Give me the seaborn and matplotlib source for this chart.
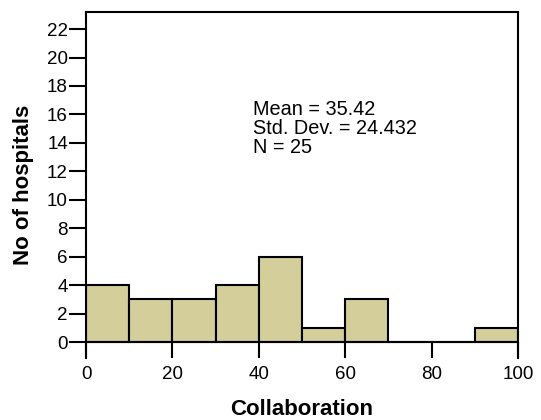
import numpy as np
import pandas as pd
import matplotlib
matplotlib.use("Agg")
import matplotlib.pyplot as plt
import seaborn as sns

# counts per bin of width 10
bin_edges = [0, 10, 20, 30, 40, 50, 60, 70, 80, 90, 100]
counts = [4, 3, 3, 4, 6, 1, 3, 0, 0, 1]
stats_lines = ["Mean = 35.42", "Std. Dev. = 24.432", "N = 25"]
y_ticks = list(range(0, 23, 2))
x_ticks = [0, 20, 40, 60, 80, 100]

sns.set_style("ticks")
plt.rcParams['font.family'] = ['Liberation Sans', 'DejaVu Sans']
plt.rcParams['text.color'] = 'black'
plt.rcParams['axes.labelcolor'] = 'black'
plt.rcParams['xtick.color'] = 'black'
plt.rcParams['ytick.color'] = 'black'

mids = [(a + b) / 2 for a, b in zip(bin_edges[:-1], bin_edges[1:])]
df = pd.DataFrame({'Collaboration': mids, 'n': counts})

fig = plt.figure(figsize=(5.41, 4.20), dpi=100)
ax = fig.add_axes([0.159, 0.1476, 0.7985, 0.8238])

sns.histplot(data=df, x='Collaboration', weights='n', bins=bin_edges,
             color='#D3CE9A', alpha=1, edgecolor='black', linewidth=1.5, ax=ax)

ax.set_xlim(0, 100)
ax.set_ylim(-1.12, 23.2)
ax.spines['bottom'].set_position(('data', 0))
for s in ax.spines.values():
    s.set_linewidth(1.5)
    s.set_color('black')

ax.set_yticks(y_ticks)
ax.set_xticks(x_ticks)
ax.tick_params(axis='y', direction='out', length=12, width=1.5, labelsize=13.5, pad=1)
ax.tick_params(axis='x', direction='out', length=11.5, width=1.5, labelsize=13.5, pad=6)

ax.set_xlabel('Collaboration', fontsize=16, fontweight='bold', labelpad=11)
ax.set_ylabel('No of hospitals', fontsize=16, fontweight='bold', labelpad=9)

ax.text(38.7, 17.05, "\n".join(stats_lines), fontsize=14.3, va='top', ha='left',
        linespacing=1.0)

fig.savefig('out.png', dpi=100)
